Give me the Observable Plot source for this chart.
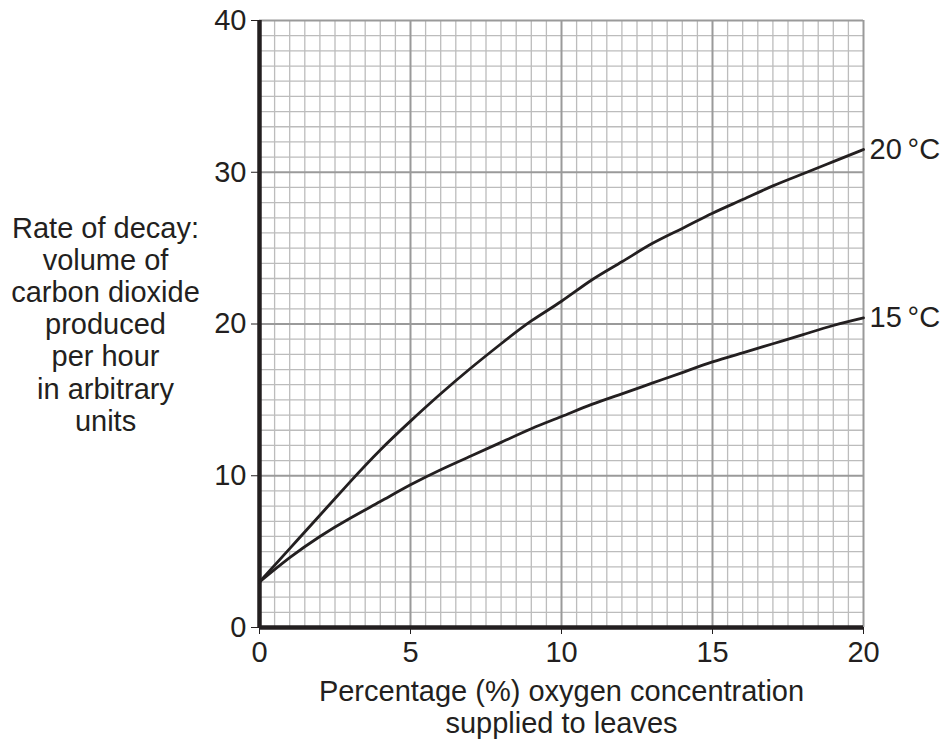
<!DOCTYPE html>
<html>
<head>
<meta charset="utf-8">
<script src="https://cdn.jsdelivr.net/npm/d3@7"></script>
<script src="https://cdn.jsdelivr.net/npm/@observablehq/plot@0.6"></script>
<style>
  html, body { margin: 0; padding: 0; background: #fff; }
</style>
</head>
<body>
<div id="chart"></div>
<script>
// Data
const oxygen = [0,1,2,3,4,5,6,7,8,9,10,11,12,13,14,15,16,17,18,19,20];
const rate20 = [3,5.2,7.4,9.6,11.7,13.6,15.4,17.1,18.7,20.2,21.5,22.9,24.1,25.3,26.3,27.3,28.2,29.1,29.9,30.7,31.5];
const rate15 = [3,4.6,6.0,7.2,8.3,9.4,10.4,11.3,12.2,13.1,13.9,14.7,15.4,16.1,16.8,17.5,18.1,18.7,19.3,19.9,20.4];
const seriesLabels = ["20\u2009°C", "15\u2009°C"];
const xTicks = [0, 5, 10, 15, 20];
const yTicks = [0, 10, 20, 30, 40];
const yLabel = "Rate of decay:\nvolume of\ncarbon dioxide\nproduced\nper hour\nin arbitrary\nunits";
const xLabel = "Percentage (%) oxygen concentration\nsupplied to leaves";

const data = [
  ...oxygen.map((x, i) => ({x, y: rate20[i], s: seriesLabels[0]})),
  ...oxygen.map((x, i) => ({x, y: rate15[i], s: seriesLabels[1]}))
];
const ends = [
  {x: oxygen[oxygen.length - 1], y: rate20[rate20.length - 1], s: seriesLabels[0]},
  {x: oxygen[oxygen.length - 1], y: rate15[rate15.length - 1], s: seriesLabels[1]}
];

const minorX = d3.range(0, 20.01, 0.5).filter(v => v % 5 !== 0);
const minorY = d3.range(0, 40.01, 1).filter(v => v % 10 !== 0);
const majorX = [5, 10, 15, 20];
const majorY = [10, 20, 30, 40];

const font = "'Liberation Sans', Arial, Helvetica, sans-serif";
const ink = "#231f20";
const fs = 29;

const chart = Plot.plot({
  width: 944,
  height: 740,
  marginLeft: 259,
  marginRight: 81,
  marginTop: 20,
  marginBottom: 113,
  style: {fontFamily: font, fontSize: fs + "px", background: "#fff", color: ink, overflow: "visible"},
  x: {domain: [0, 20]},
  y: {domain: [0, 40]},
  marks: [
    Plot.ruleX(minorX, {stroke: "#bcbcbc", strokeWidth: 1.3}),
    Plot.ruleY(minorY, {stroke: "#bcbcbc", strokeWidth: 1.3}),
    Plot.ruleX(majorX, {stroke: "#9a9a9a", strokeWidth: 2}),
    Plot.ruleY(majorY, {stroke: "#9a9a9a", strokeWidth: 2}),
    Plot.axisX({ticks: xTicks, tickSize: 7, tickPadding: 7, tickFormat: d => String(d), fontSize: fs, stroke: ink, fill: ink, label: null}),
    Plot.axisY({ticks: yTicks, tickSize: 8, tickPadding: 5, tickFormat: d => String(d), fontSize: fs, stroke: ink, fill: ink, label: null}),
    Plot.ruleY([0], {stroke: ink, strokeWidth: 4.5}),
    Plot.ruleX([0], {stroke: ink, strokeWidth: 4.5}),
    Plot.line(data, {x: "x", y: "y", z: "s", curve: "natural", stroke: ink, strokeWidth: 2.8}),
    Plot.text(ends, {x: "x", y: "y", text: "s", dx: 6, textAnchor: "start", fontSize: fs, fill: ink}),
    Plot.text([yLabel], {frameAnchor: "left", dx: -154, textAnchor: "middle", lineAnchor: "middle", lineHeight: 1.11, fontSize: fs, fill: ink}),
    Plot.text([xLabel], {frameAnchor: "bottom", dy: 79, textAnchor: "middle", lineAnchor: "middle", lineHeight: 1.11, fontSize: fs, fill: ink})
  ]
});
document.getElementById("chart").appendChild(chart);
</script>
</body>
</html>
